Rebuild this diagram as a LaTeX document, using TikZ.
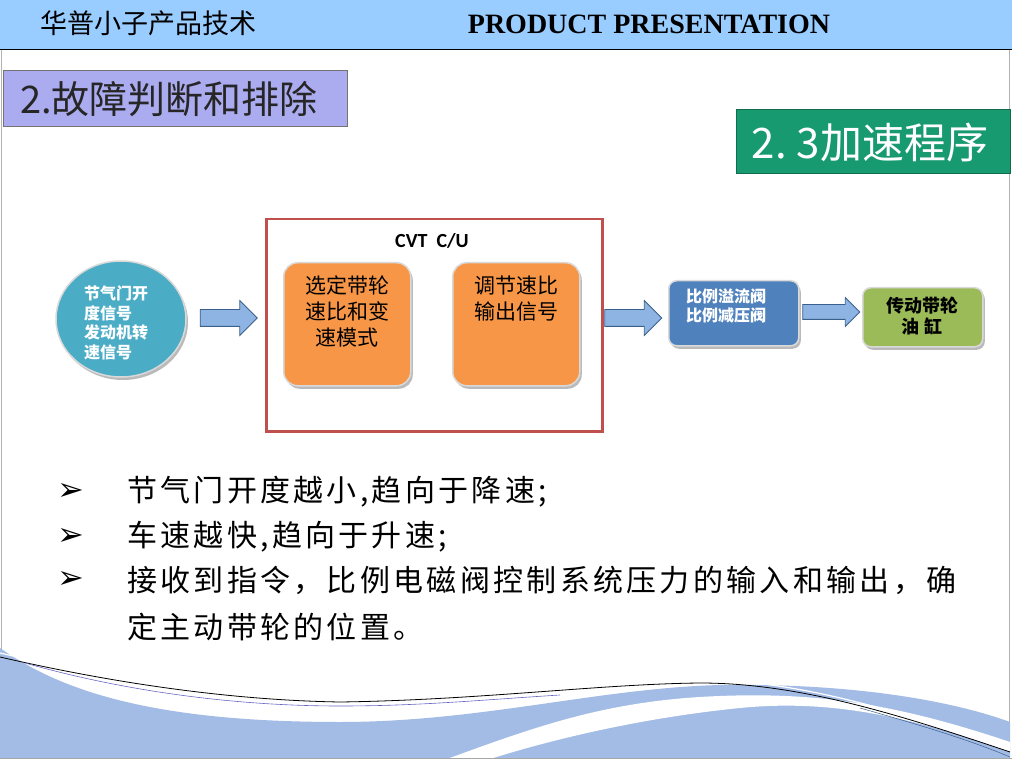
\documentclass[tikz,border=0pt]{standalone}
\usepackage{fontspec}
\setmainfont{Liberation Serif}
\newfontfamily\cjk{Noto Sans CJK SC}
\newfontfamily\cjkl{Noto Sans CJK SC}[LetterSpace=11]
\newfontfamily\dvs{DejaVu Sans}
\newfontfamily\carl{Carlito}
\usetikzlibrary{shapes.arrows,shapes.geometric,shadows}
\definecolor{hdr}{HTML}{99CCFF}
\definecolor{lav}{HTML}{ABABF0}
\definecolor{tgreen}{HTML}{189A70}
\definecolor{cyanb}{HTML}{4BACC6}
\definecolor{orng}{HTML}{F79646}
\definecolor{blu}{HTML}{4F81BD}
\definecolor{grn}{HTML}{9BBB59}
\definecolor{redb}{HTML}{C0504D}
\definecolor{arrf}{HTML}{8EB4E3}
\definecolor{arrd}{HTML}{3A5F8B}
\definecolor{wave}{HTML}{A3BCE6}
\newcommand{\fsz}[1]{\fontsize{#1}{#1}\selectfont}
\tikzset{
  shad/.style={drop shadow={shadow xshift=2pt,shadow yshift=-3pt,opacity=0.45,fill=black!60}},
  obox/.style={rounded corners=14pt,fill=orng,draw=white!85!black,line width=1.5pt,shad,
    minimum width=127pt,minimum height=123pt,anchor=north west,inner sep=0pt},
  blockarrow/.style={single arrow,fill=arrf,draw=arrd,line width=0.8pt,inner sep=8pt,
    single arrow head extend=9pt,minimum height=57pt,minimum width=34pt},
  bultxt/.style={anchor=west,inner sep=0pt,font=\cjkl\fsz{30}},
  bulmark/.style={inner sep=0pt,font=\dvs\fsz{32}},
}
\begin{document}
\begin{tikzpicture}[x=1pt,y=-1pt]
\useasboundingbox (0,0) rectangle (1012,759);
% header
\fill[hdr] (0,0) rectangle (1012,50);
\draw[black,line width=1pt] (0,50) -- (1012,50);
\node[anchor=west,inner sep=0pt,font=\cjk\fsz{27}] (hcn) at (40,23) {华普小子产品技术};
\node[inner sep=0pt,font=\fsz{28}\bfseries] (htitle) at (649,24) {PRODUCT PRESENTATION};
% slide frame
\draw[gray!60,line width=0.8pt] (1,50) -- (1,759);
\draw[gray!60,line width=0.8pt] (1009,50) -- (1009,759);
% bottom wave
\fill[wave] (0,648) .. controls (60,690) and (150,722) .. (340,722)
  .. controls (480,722) and (600,688) .. (720,685)
  .. controls (850,683) and (950,700) .. (1010,722) -- (1010,759) -- (0,759) -- cycle;
\fill[white] (447,759) .. controls (540,725) and (610,700) .. (720,696)
  .. controls (820,692) and (900,705) .. (1010,742) -- (1010,752)
  .. controls (900,712) and (820,700) .. (740,708)
  .. controls (640,718) and (550,740) .. (490,759) -- cycle;
\draw[white,line width=1.2pt] (0,653) .. controls (100,676) and (220,697) .. (340,699)
  .. controls (480,697) and (600,681) .. (700,680) .. controls (800,680) and (900,712) .. (1010,749);
\draw[black,line width=0.8pt] (0,657) .. controls (100,680) and (220,700) .. (340,702)
  .. controls (480,700) and (600,684) .. (700,683) .. controls (800,683) and (900,715) .. (1010,752);
\draw[black!40!blue!60,line width=0.6pt] (25,663) .. controls (120,690) and (230,706) .. (340,706)
  .. controls (420,706) and (480,700) .. (560,695);
\draw[arrd,line width=0.5pt] (860,708) .. controls (920,725) and (970,740) .. (1010,757);
\draw[gray!70,line width=1pt] (0,758) -- (1012,758);
% section box
\node[anchor=north west,minimum width=344pt,minimum height=56pt,inner sep=0pt,
  fill=lav,draw=black!55,line width=1pt] (sec) at (3,70) {};
\node[anchor=west,inner sep=0pt,text=black!85,font=\cjk\fsz{38}] (sectxt) at (20,99) {2.故障判断和排除};
% sub title
\node[anchor=north west,minimum width=274pt,minimum height=64pt,inner sep=0pt,
  fill=tgreen,draw=tgreen!70!black,line width=0.8pt] (sub) at (736,109) {};
\node[inner sep=0pt,text=white,font=\cjk\fsz{42}] (subtxt) at (870,143) {2.\hspace{10pt}3加速程序};
% circle
\node[ellipse,fill=cyanb,draw=white!85!black,line width=1.5pt,shad,
  minimum width=130pt,minimum height=116pt,inner sep=0pt] (sig) at (121,319) {};
\node[align=left,text=white,inner sep=0pt,anchor=west,font=\cjk\bfseries\fsz{16}] (sigtxt) at (84,323)
  {节气门开\\[3.5pt]度信号\\[3.5pt]发动机转\\[3.5pt]速信号};
% arrow 1
\node[blockarrow] (a1) at (224.5,318) {};
% CVT box
\node[anchor=north west,minimum width=336pt,minimum height=212pt,inner sep=0pt,
  draw=redb,line width=2.5pt] (cvt) at (265,218) {};
\node[inner sep=0pt,font=\carl\bfseries\fsz{20}] (cvtl) at (432,241) {CVT\ \ C/U};
\node[obox] (o1) at (283,262) {};
\node[obox] (o2) at (452,262) {};
\node[anchor=north,align=center,inner sep=0pt,font=\cjk\fsz{21}] (o1t) at (347,276)
  {选定带轮\\[5pt]速比和变\\[5pt]速模式};
\node[anchor=north,align=center,inner sep=0pt,font=\cjk\fsz{21}] (o2t) at (516,276)
  {调节速比\\[5pt]输出信号};
% arrow 2
\node[blockarrow] (a2) at (629,318) {};
% valve box
\node[anchor=north west,rounded corners=8pt,fill=blu,draw=white!85!black,line width=1.5pt,shad,
  minimum width=130pt,minimum height=65pt,inner sep=0pt] (vb) at (668,280) {};
\node[align=center,text=white,inner sep=0pt,font=\cjk\bfseries\fsz{16}] (vbt) at (726,306)
  {比例溢流阀\\[3pt]比例减压阀};
% arrow 3
\node[blockarrow,minimum width=28pt,inner sep=7pt,single arrow head extend=7pt] (a3) at (827.5,312) {};
% green box
\node[anchor=north west,rounded corners=8pt,fill=grn,draw=white!85!black,line width=1.5pt,shad,
  minimum width=120pt,minimum height=59pt,inner sep=0pt] (gb) at (862,287) {};
\node[align=center,inner sep=0pt,font=\cjk\bfseries\fsz{18}] (gbt) at (922,316)
  {传动带轮\\[3pt]油\ 缸};
% bullets
\node[bulmark] (b1) at (71,492) {➢};
\node[bulmark] (b2) at (71,537) {➢};
\node[bulmark] (b3) at (71,580) {➢};
\node[bultxt] (t1) at (127,492) {节气门开度越小,趋向于降速;};
\node[bultxt] (t2) at (127,537) {车速越快,趋向于升速;};
\node[bultxt] (t3) at (127,580) {接收到指令，比例电磁阀控制系统压力的输入和输出，确};
\node[bultxt] (t4) at (127,627) {定主动带轮的位置。};
\end{tikzpicture}
\end{document}
